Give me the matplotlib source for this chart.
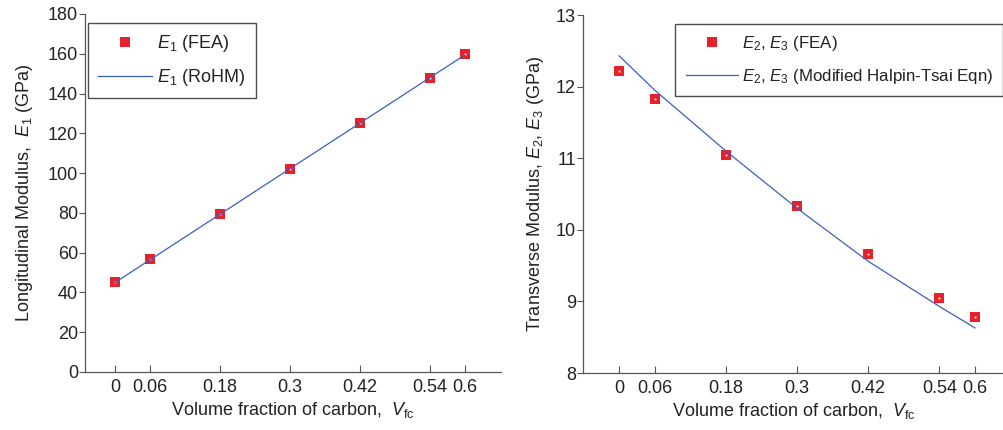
"""
Longitudinal and transverse moduli against carbon volume fraction,
FEA points compared with RoHM and modified Halpin-Tsai curves.
"""

import matplotlib
matplotlib.use("Agg")
import matplotlib.pyplot as plt

plt.rcParams['font.family'] = ['Liberation Sans', 'DejaVu Sans']
plt.rcParams['mathtext.fontset'] = 'custom'
plt.rcParams['mathtext.rm'] = 'Liberation Sans'
plt.rcParams['mathtext.it'] = 'Liberation Sans:italic'

vf = [0, 0.06, 0.18, 0.3, 0.42, 0.54, 0.6]
vf_labels = ["0", "0.06", "0.18", "0.3", "0.42", "0.54", "0.6"]

e1_fea = [45.4, 56.6, 79.3, 102.3, 125.0, 147.6, 159.8]
e1_rohm = [45.0, 56.4, 79.3, 102.2, 125.1, 148.0, 159.4]

e23_fea = [12.22, 11.83, 11.05, 10.33, 9.66, 9.05, 8.78]
e23_halpin = [12.43, 11.95, 11.10, 10.30, 9.56, 8.93, 8.63]

RED = "#e8202a"
BLUE = "#3b5fbf"
AXC = "#555555"
TXT = "#222222"
FS = 13


def style_axes(ax):
    ax.spines['top'].set_visible(False)
    ax.spines['right'].set_visible(False)
    for s in ('left', 'bottom'):
        ax.spines[s].set_color(AXC)
        ax.spines[s].set_linewidth(0.9)
    ax.tick_params(axis='x', direction='in', length=5, color=AXC, labelsize=FS,
                   labelcolor=TXT, pad=5)
    ax.tick_params(axis='y', direction='out', length=4, color=AXC, labelsize=FS,
                   labelcolor=TXT, pad=1)
    ax.set_xticks(vf)
    ax.set_xticklabels(vf_labels)
    ax.set_xlabel(r"Volume fraction of carbon,  $V_{\rm fc}$", fontsize=FS,
                  color=TXT, labelpad=3)


def plot_points(ax, x, y, label):
    ax.plot(x, y, 's', color=RED, markersize=7.5, markeredgewidth=0,
            label=label, zorder=3)
    ax.plot(x, y, 's', color="white", markersize=1.3, markeredgewidth=0,
            zorder=4)


def style_legend(leg):
    leg.get_frame().set_edgecolor("#222222")
    leg.get_frame().set_linewidth(1.0)
    for t in leg.get_texts():
        t.set_color(TXT)


fig = plt.figure(figsize=(10.04, 4.30), dpi=100)

# Left panel: longitudinal modulus
ax1 = fig.add_axes([85 / 1004, 1 - 372 / 430, 416 / 1004, 358 / 430])
plot_points(ax1, vf, e1_fea, r"$E_1$ (FEA)")
ax1.plot(vf, e1_rohm, '-', color=BLUE, linewidth=0.9, label=r"$E_1$ (RoHM)",
         zorder=5)
ax1.set_xlim(-0.0515, 0.662)
ax1.set_ylim(0, 180)
ax1.set_yticks(range(0, 181, 20))
style_axes(ax1)
ax1.set_ylabel(r"Longitudinal Modulus,  $E_1$ (GPa)", fontsize=FS, color=TXT,
               labelpad=9)
leg1 = ax1.legend(loc='upper left', bbox_to_anchor=(0.007, 0.975), fontsize=FS,
                  frameon=True, fancybox=False, handlelength=3.0,
                  borderpad=0.55, labelspacing=0.75, handletextpad=0.3,
                  borderaxespad=0)
style_legend(leg1)

# Right panel: transverse modulus
ax2 = fig.add_axes([583 / 1004, 1 - 373 / 430, 421 / 1004, 358 / 430])
plot_points(ax2, vf, e23_fea, r"$E_2$, $E_3$ (FEA)")
ax2.plot(vf, e23_halpin, '-', color=BLUE, linewidth=0.9,
         label=r"$E_2$, $E_3$ (Modified Halpin-Tsai Eqn)", zorder=5)
ax2.set_xlim(-0.061, 0.649)
ax2.set_ylim(8, 13)
ax2.set_yticks(range(8, 14))
style_axes(ax2)
ax2.set_ylabel(r"Transverse Modulus, $E_2$, $E_3$ (GPa)", fontsize=FS,
               color=TXT, labelpad=7)
leg2 = ax2.legend(loc='upper right', bbox_to_anchor=(0.998, 0.975),
                  fontsize=12.2, frameon=True, fancybox=False,
                  handlelength=3.1, borderpad=0.6, labelspacing=0.8,
                  handletextpad=0.2, borderaxespad=0)
style_legend(leg2)

fig.savefig("out.png", dpi=100)
plt.close(fig)
